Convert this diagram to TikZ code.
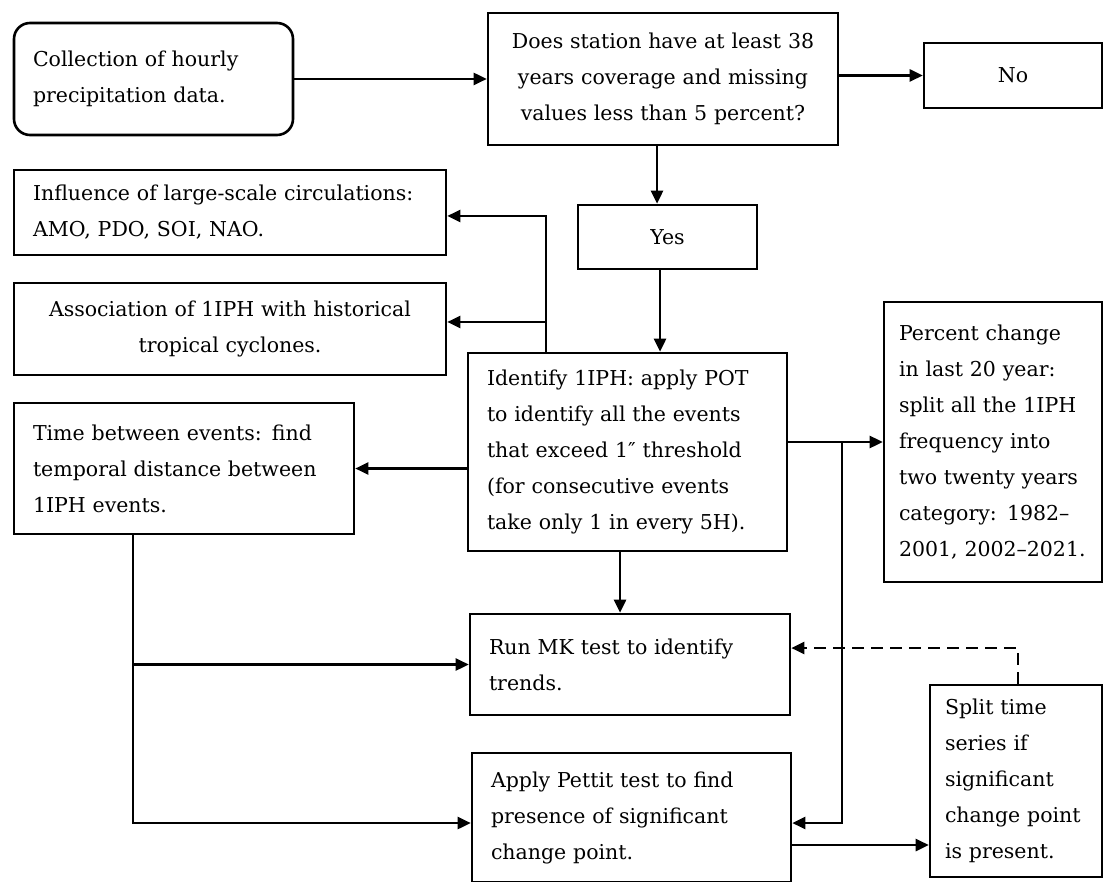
\documentclass[tikz,border=0pt]{standalone}
\usepackage{fontspec}
\setmainfont{DejaVu Serif}
\usetikzlibrary{arrows.meta}
\begin{document}
\begin{tikzpicture}[x=1pt,y=-1pt,
  box/.style={draw, line width=2.6pt, inner xsep=19pt, inner ysep=0pt,
    font=\fontsize{20.5}{36}\selectfont, anchor=center},
  lbox/.style={box, align=left},
  cbox/.style={box, align=center},
  arr/.style={line width=2.6pt, -{Triangle[length=13pt,width=12pt]}}]
\useasboundingbox (0,0) rectangle (1103,882);

% boxes: text width = width - 2*inner xsep
\node[lbox, rounded corners=16pt, text width=241pt, minimum height=112pt] (coll) at (153.5,79) {Collection of hourly\\precipitation data.};
\node[cbox, text width=312pt, minimum height=132pt] (does) at (663,79) {Does station have at least 38\\years coverage and missing\\values less than 5 percent?};
\node[cbox, text width=140pt, minimum height=65pt] (no) at (1013,75.5) {No};
\node[cbox, text width=141pt, minimum height=64pt] (yes) at (667.5,237) {Yes};
\node[lbox, text width=394pt, minimum height=85pt] (infl) at (230,212.5) {Influence of large-scale circulations:\\AMO, PDO, SOI, NAO.};
\node[cbox, text width=394pt, minimum height=92pt] (assoc) at (230,329) {Association of 1IPH with historical\\tropical cyclones.};
\node[lbox, text width=281pt, minimum height=198pt] (ident) at (627.5,452) {Identify 1IPH: apply POT\\to identify all the events\\that exceed 1″ threshold\\(for consecutive events\\take only 1 in every 5H).};
\node[lbox, text width=302pt, minimum height=131pt] (time) at (184,468.5) {Time between events: find\\temporal distance between\\1IPH events.};
\node[lbox, inner xsep=15pt, text width=188pt, minimum height=280pt] (pct) at (993,442) {\mbox{Percent change}\\\mbox{in last 20 year:}\\\mbox{split all the 1IPH}\\\mbox{frequency into}\\\mbox{two twenty years}\\\mbox{category: 1982–}\\\mbox{2001, 2002–2021.}};
\node[lbox, text width=282pt, minimum height=101pt] (mk) at (630,664.5) {Run MK test to identify\\trends.};
\node[lbox, text width=281pt, minimum height=129pt] (apply) at (631.5,817.5) {Apply Pettit test to find\\presence of significant\\change point.};
\node[lbox, inner xsep=15pt, text width=142pt, minimum height=192pt] (split) at (1016,781) {\mbox{Split time}\\\mbox{series if}\\\mbox{significant}\\\mbox{change point}\\\mbox{is present.}};

% helper coordinates
\coordinate (ja) at (546,216);
\coordinate (jb) at (546,322);
\coordinate (c657) at (657,0);
\coordinate (c660) at (660,0);
\coordinate (c620) at (620,0);
\coordinate (jr) at (842,442);
\coordinate (jr2) at (842,823);
\coordinate (tb) at (133,823);
\coordinate (as) at (791,845);
\coordinate (dk) at (1018,648);

% connectors
\draw[arr] (coll.east) -- (coll.east -| does.west);
\draw[arr] (does.east |- no.west) -- (no.west);
\draw[arr] (does.south -| c657) -- (yes.north -| c657);
\draw[arr] (yes.south -| c660) -- (ident.north -| c660);
\draw[arr] (ident.north -| ja) -- (ja) -- (ja -| infl.east);
\draw[arr] (jb) -- (jb -| assoc.east);
\draw[arr] (ident.west |- time.east) -- (time.east);
\draw[arr] (ident.south -| c620) -- (mk.north -| c620);
\draw[arr] (ident.east |- pct.west) -- (pct.west);
\draw[arr] (jr) -- (jr2) -- (jr2 -| apply.east);
\draw[arr] (time.south -| tb) -- (tb) -- (tb -| apply.west);
\draw[arr] (tb |- mk.west) -- (mk.west);
\draw[arr] (apply.east |- as) -- (as -| split.west);
\draw[arr, dash pattern=on 12pt off 7pt] (split.north -| dk) -- (dk) -- (dk -| mk.east);
\end{tikzpicture}
\end{document}
